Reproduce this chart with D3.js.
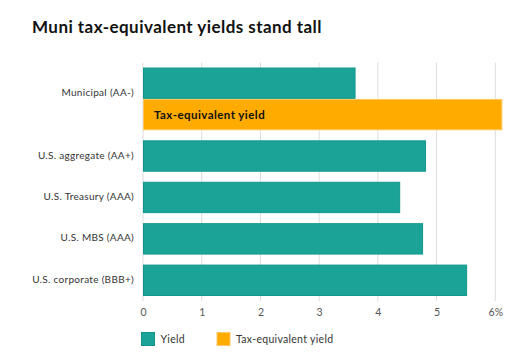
<!DOCTYPE html>
<html>
<head>
<meta charset="utf-8">
<script src="https://cdn.jsdelivr.net/npm/d3@7"></script>
<style>
  html, body { margin: 0; padding: 0; background: #fff; }
  svg { display: block; font-family: Lato, "Open Sans", sans-serif; }
</style>
</head>
<body>
<svg id="chart" width="512" height="360"></svg>
<script>
const title = "Muni tax-equivalent yields stand tall";
const categories = ["Municipal (AA-)", "U.S. aggregate (AA+)", "U.S. Treasury (AAA)", "U.S. MBS (AAA)", "U.S. corporate (BBB+)"];
const yieldValues = [3.62, 4.82, 4.38, 4.77, 5.52];
const taxEquivValues = [6.12, null, null, null, null];
const seriesNames = ["Yield", "Tax-equivalent yield"];
const tickValues = [0, 1, 2, 3, 4, 5, 6];
const tickLabels = ["0", "1", "2", "3", "4", "5", "6%"];

const colors = { yield: "#1ca398", yieldStroke: "#12978c", tax: "#ffab00", taxStroke: "#ffc766" };

const svg = d3.select("#chart");
const margin = { left: 143, right: 17, top: 62.5, bottom: 59 };
const W = 512, H = 360;

const x = d3.scaleLinear().domain([0, 6]).range([margin.left, 495.3]);

const gapUnits = 0.32;
const groups = categories.map((c, i) => {
  const bars = [{ series: "yield", value: yieldValues[i] }];
  if (taxEquivValues[i] != null) bars.push({ series: "tax", value: taxEquivValues[i] });
  return { category: c, bars };
});
let acc = 0;
groups.forEach(g => { g.start = acc; acc += g.bars.length + gapUnits; g.end = acc; });
const y = d3.scaleLinear().domain([0, acc]).range([margin.top, H - margin.bottom]);

svg.append("text")
  .attr("x", 32).attr("y", 33)
  .attr("font-size", 17).attr("font-weight", 700).attr("fill", "#111")
  .attr("letter-spacing", 0.45)
  .text(title);

// gridlines
svg.append("g").selectAll("line").data(tickValues).join("line")
  .attr("x1", d => x(d)).attr("x2", d => x(d))
  .attr("y1", y(0)).attr("y2", y(acc))
  .attr("stroke", "#dddddd").attr("stroke-width", 1);

// x axis labels
const xAxis = d3.axisBottom(x).tickValues(tickValues).tickSize(0).tickPadding(0)
  .tickFormat((d, i) => tickLabels[i]);
const ax = svg.append("g").attr("transform", `translate(0, ${y(acc) + 8})`).call(xAxis);
ax.select(".domain").remove();
ax.selectAll("text").attr("font-size", 10.5).attr("fill", "#555").attr("font-family", "Lato, sans-serif");

// bars
const gSel = svg.append("g").selectAll("g").data(groups).join("g");
gSel.selectAll("rect").data(g => g.bars.map((b, j) => ({ ...b, top: g.start + gapUnits / 2 + j }))).join("rect")
  .attr("x", x(0) + 0.5)
  .attr("y", d => y(d.top) + 0.5)
  .attr("width", d => x(d.value) - x(0) - 1)
  .attr("height", d => y(d.top + 1) - y(d.top) - 1)
  .attr("fill", d => d.series === "yield" ? colors.yield : colors.tax)
  .attr("stroke", d => d.series === "yield" ? colors.yieldStroke : colors.taxStroke)
  .attr("stroke-width", 1);

// label inside tax bar
gSel.filter(g => g.bars.length > 1).append("text")
  .attr("x", x(0) + 11)
  .attr("y", g => y(g.start + gapUnits / 2 + 1.5) + 4)
  .attr("font-size", 11.5).attr("font-weight", 700).attr("fill", "#111")
  .attr("letter-spacing", 0.45)
  .text(seriesNames[1]);

// category labels
gSel.append("text")
  .attr("x", x(0) - 9)
  .attr("y", g => (y(g.start) + y(g.end)) / 2 - (g.bars.length - 1) * 5 + 2.5)
  .attr("text-anchor", "end")
  .attr("font-size", 10).attr("fill", "#333")
  .attr("letter-spacing", 0.3)
  .text(g => g.category);

// legend
const legend = svg.append("g");
const legendItems = [
  { name: seriesNames[0], fill: colors.yield, stroke: colors.yieldStroke, x: 141 },
  { name: seriesNames[1], fill: colors.tax, stroke: colors.taxStroke, x: 216.5 }
];
const li = legend.selectAll("g").data(legendItems).join("g")
  .attr("transform", d => `translate(${d.x}, 332)`);
li.append("rect").attr("x", 0.5).attr("y", 0.5).attr("width", 13).attr("height", 13)
  .attr("fill", d => d.fill).attr("stroke", d => d.stroke);
li.append("text").attr("x", 19.5).attr("y", 10.5)
  .attr("font-size", 10.5).attr("fill", "#333")
  .attr("letter-spacing", 0.3)
  .text(d => d.name);
</script>
</body>
</html>
